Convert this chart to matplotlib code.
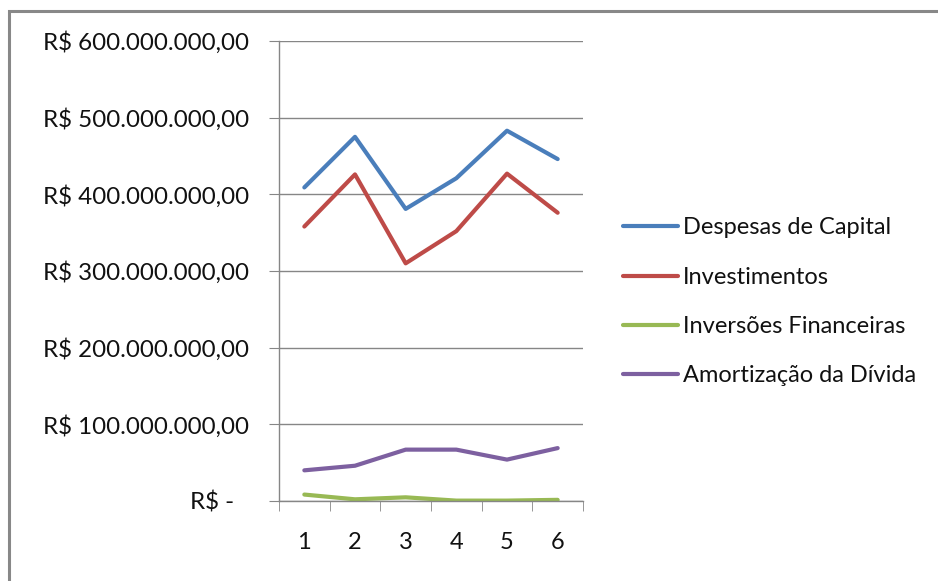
import numpy as np
import matplotlib.pyplot as plt
from matplotlib.patches import Rectangle
from matplotlib.transforms import ScaledTranslation

plt.rcParams['font.family'] = ['Lato', 'DejaVu Sans']

categories = [1, 2, 3, 4, 5, 6]
despesas_capital = [409e6, 475e6, 381e6, 421e6, 483e6, 446e6]
investimentos = [358e6, 426e6, 310e6, 352e6, 427e6, 376e6]
inversoes_financeiras = [8.4e6, 2.2e6, 4.8e6, 0.5e6, 0.5e6, 1.5e6]
amortizacao_divida = [40e6, 46e6, 67e6, 67e6, 54e6, 69e6]

series_names = ['Despesas de Capital', 'Investimentos',
                'Inversões Financeiras', 'Amortização da Dívida']
series_colors = ['#4A7EBB', '#BE4B48', '#98B954', '#7D60A0']
y_ticks = [0, 100e6, 200e6, 300e6, 400e6, 500e6, 600e6]


def brl(v):
    if v == 0:
        return 'R$ -'
    s = f'{v:,.2f}'
    s = s.replace(',', 'X').replace('.', ',').replace('X', '.')
    return 'R$ ' + s


W, H = 938, 581
fs = 17
fig = plt.figure(figsize=(W / 100, H / 100), dpi=100)
fig.patches.append(Rectangle((9 / W, -0.1), 1.2, (H - 11) / H + 0.1,
                             transform=fig.transFigure, fill=False,
                             edgecolor='#888888', linewidth=2.2))

ax = fig.add_axes([279 / W, 80 / H, 304 / W, 460 / H])
all_series = [despesas_capital, investimentos,
              inversoes_financeiras, amortizacao_divida]
for vals, name, col in zip(all_series, series_names, series_colors):
    ax.plot(categories, vals, color=col, linewidth=3, label=name,
            solid_capstyle='round', solid_joinstyle='round')

ax.set_xlim(0.5, 6.5)
ax.set_ylim(0, 600e6)
ax.set_yticks(y_ticks)
ax.set_yticklabels([brl(v) for v in y_ticks])
ax.set_xticks(categories)
ax.set_xticks(np.arange(0.5, 7.0, 1.0), minor=True)

grid_col = '#868686'
ax.grid(axis='y', color=grid_col, linewidth=1)
ax.set_axisbelow(True)
for s in ['top', 'right']:
    ax.spines[s].set_visible(False)
for s in ['left', 'bottom']:
    ax.spines[s].set_color(grid_col)
    ax.spines[s].set_linewidth(1)

ax.tick_params(axis='y', length=7.2, color=grid_col, pad=14.4,
               labelsize=17.4, labelcolor='#111111')
ax.tick_params(axis='x', which='major', length=0, pad=22,
               labelsize=fs, labelcolor='#111111')
ax.tick_params(axis='x', which='minor', length=7.2, color=grid_col)

# accounting format: the dash for zero sits a bit left
zero_lbl = ax.get_yticklabels()[0]
zero_lbl.set_transform(zero_lbl.get_transform() +
                       ScaledTranslation(-0.15, 0, fig.dpi_scale_trans))

ax.legend(loc='center left', bbox_to_anchor=(623 / W, 279 / H),
          bbox_transform=fig.transFigure, frameon=False, fontsize=fs,
          handlelength=2.33, handletextpad=0.21, labelspacing=1.2,
          borderpad=0, borderaxespad=0, labelcolor='#111111')

fig.savefig('out.png', dpi=100)
